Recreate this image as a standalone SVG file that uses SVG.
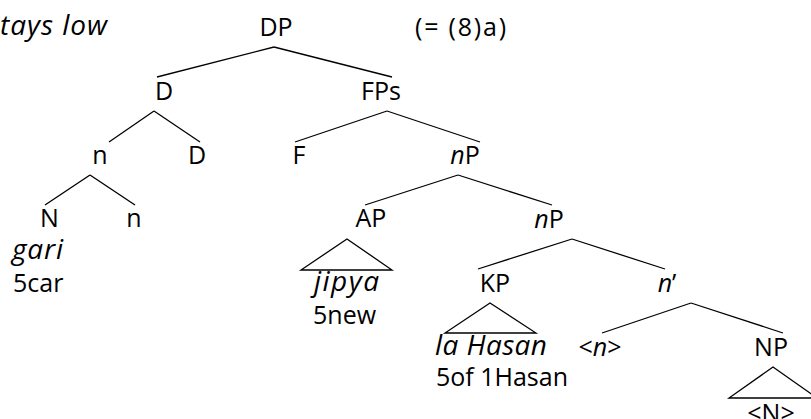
<svg xmlns="http://www.w3.org/2000/svg" width="811" height="419" viewBox="0 0 811 419">
<style>
text{font-family:"Open Sans","Noto Sans","Liberation Sans",sans-serif;font-size:25px;fill:#000}
.m{text-anchor:middle}
.i{font-style:italic}
.w{font-size:28px}
.e{stroke:#000;stroke-width:1.3;fill:none}
</style>
<rect width="811" height="419" fill="#fff"/>
<g id="title"><text class="i w" x="0" y="35" textLength="107">tays low</text></g>
<g id="ref"><text x="415" y="36" textLength="91">(= (8)a)</text></g>
<g id="edges">
<line class="e" x1="274" y1="47" x2="157" y2="77"/>
<line class="e" x1="274" y1="47" x2="392" y2="77"/>
<line class="e" x1="154" y1="111" x2="109" y2="142"/>
<line class="e" x1="154" y1="111" x2="200" y2="142"/>
<line class="e" x1="387" y1="111" x2="295" y2="142"/>
<line class="e" x1="387" y1="111" x2="480" y2="142"/>
<line class="e" x1="90" y1="175" x2="45" y2="205"/>
<line class="e" x1="90" y1="175" x2="135" y2="205"/>
<line class="e" x1="458" y1="175" x2="365" y2="205"/>
<line class="e" x1="458" y1="175" x2="552" y2="205"/>
<line class="e" x1="572" y1="239" x2="478" y2="269"/>
<line class="e" x1="572" y1="239" x2="665" y2="269"/>
<line class="e" x1="691" y1="303" x2="602" y2="333"/>
<line class="e" x1="691" y1="303" x2="783" y2="333"/>
<polygon class="e" points="347,239 301,270 392,270"/>
<polygon class="e" points="490,303 445,333 536,333"/>
<polygon class="e" points="773,367 729,398 817,398"/>
</g>
<g id="DP"><text class="m" x="276" y="36">DP</text></g>
<g id="D1"><text class="m" x="164" y="100">D</text></g>
<g id="FPs"><text class="m" x="381" y="100">FPs</text></g>
<g id="n1"><text class="m" x="100" y="164">n</text></g>
<g id="D2"><text class="m" x="197" y="164">D</text></g>
<g id="F"><text class="m" x="299" y="164">F</text></g>
<g id="nP1"><text class="m" x="465" y="164"><tspan class="i">n</tspan>P</text></g>
<g id="N"><text class="m" x="49.5" y="227">N</text></g>
<g id="n2"><text class="m" x="134" y="227">n</text></g>
<g id="gari"><text class="i w" x="12" y="259" textLength="51">gari</text><text x="13" y="292">5car</text></g>
<g id="AP"><text class="m" x="371" y="227">AP</text></g>
<g id="jipya"><text class="i w" x="314" y="291" textLength="65">jipya</text><text x="313" y="324">5new</text></g>
<g id="nP2"><text class="m" x="549" y="228"><tspan class="i">n</tspan>P</text></g>
<g id="KP"><text class="m" x="495" y="292">KP</text></g>
<g id="nbar"><text class="m" x="667" y="292"><tspan class="i">n</tspan>’</text></g>
<g id="laHasan"><text class="i w" x="435" y="355" textLength="112">la Hasan</text><text x="436" y="386">5of 1Hasan</text></g>
<g id="ntrace"><text class="m" x="600" y="356">&lt;<tspan class="i">n</tspan>&gt;</text></g>
<g id="NP"><text class="m" x="771" y="356">NP</text></g>
<g id="Ntrace"><text class="m" x="771" y="422">&lt;N&gt;</text></g>
</svg>
